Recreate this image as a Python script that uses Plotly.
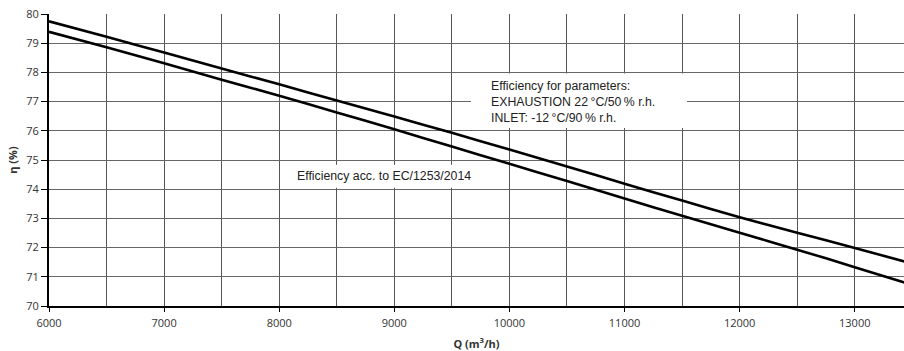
import plotly.graph_objects as go

q = [6000, 6500, 7000, 7500, 8000, 8500, 9000, 9500, 10000, 10500,
     11000, 11500, 12000, 12500, 13000, 13500]
eta_params = [79.75, 79.22, 78.68, 78.13, 77.59, 77.04, 76.49, 75.93, 75.36, 74.78,
              74.19, 73.61, 73.04, 72.51, 71.99, 71.45]
eta_ec = [79.39, 78.86, 78.31, 77.75, 77.20, 76.63, 76.05, 75.46, 74.87, 74.28,
          73.68, 73.09, 72.51, 71.93, 71.33, 70.72]

x_ticks = [6000, 7000, 8000, 9000, 10000, 11000, 12000, 13000]
y_ticks = list(range(70, 81))

label_params = "Efficiency for parameters:<br>EXHAUSTION 22\u2009°C/50\u2009% r.h.<br>INLET: -12\u2009°C/90\u2009% r.h."
label_ec = "Efficiency acc. to EC/1253/2014"

fig = go.Figure()
fig.add_trace(go.Scatter(x=q, y=eta_params, mode="lines",
                         line=dict(color="black", width=2.6, shape="spline", smoothing=0.8),
                         showlegend=False))
fig.add_trace(go.Scatter(x=q, y=eta_ec, mode="lines",
                         line=dict(color="black", width=2.6, shape="spline", smoothing=0.8),
                         showlegend=False))

# white label backgrounds (between grid and data)
fig.add_shape(type="rect", x0=9666, x1=11543, y0=76.1, y1=77.96,
              fillcolor="white", line=dict(width=0), layer="between")
fig.add_shape(type="rect", x0=8060, x1=9866, y0=74.05, y1=74.84,
              fillcolor="white", line=dict(width=0), layer="between")

fig.add_annotation(x=9823, y=77.0, text=label_params, showarrow=False,
                   xanchor="left", yanchor="middle", align="left",
                   font=dict(family="Liberation Sans, Arial", size=12.3, color="#222"))
fig.add_annotation(x=8137, y=74.46, text=label_ec, showarrow=False,
                   xanchor="left", yanchor="middle", align="left",
                   font=dict(family="Liberation Sans, Arial", size=12.3, color="#222"))

fig.update_layout(
    width=904, height=351,
    margin=dict(l=49, r=0, t=14, b=45),
    paper_bgcolor="white", plot_bgcolor="white",
    font=dict(family="Open Sans", size=11, color="#333"),
)
fig.update_xaxes(
    range=[6000, 13428], tickvals=x_ticks, ticktext=[str(v) for v in x_ticks],
    showgrid=True, gridcolor="#555", gridwidth=1,
    minor=dict(dtick=500, showgrid=True, gridcolor="#555", gridwidth=1),
    showline=True, linecolor="black", linewidth=1.5,
    ticks="outside", ticklen=4, tickcolor="black", ticklabelstandoff=2,
    title=dict(text="<b>Q (m<sup>3</sup>/h)</b>", standoff=11,
               font=dict(family="Open Sans", size=11, color="#333")),
    zeroline=False,
)
fig.update_yaxes(
    range=[70, 80], tickvals=y_ticks,
    showgrid=True, gridcolor="#666", gridwidth=1,
    showline=True, linecolor="black", linewidth=2,
    ticks="outside", ticklen=6, tickcolor="black",
    title=dict(text="<b>η (%)</b>", standoff=6,
               font=dict(family="Open Sans", size=11, color="#333")),
    zeroline=False,
)

fig.write_html("out.html")
